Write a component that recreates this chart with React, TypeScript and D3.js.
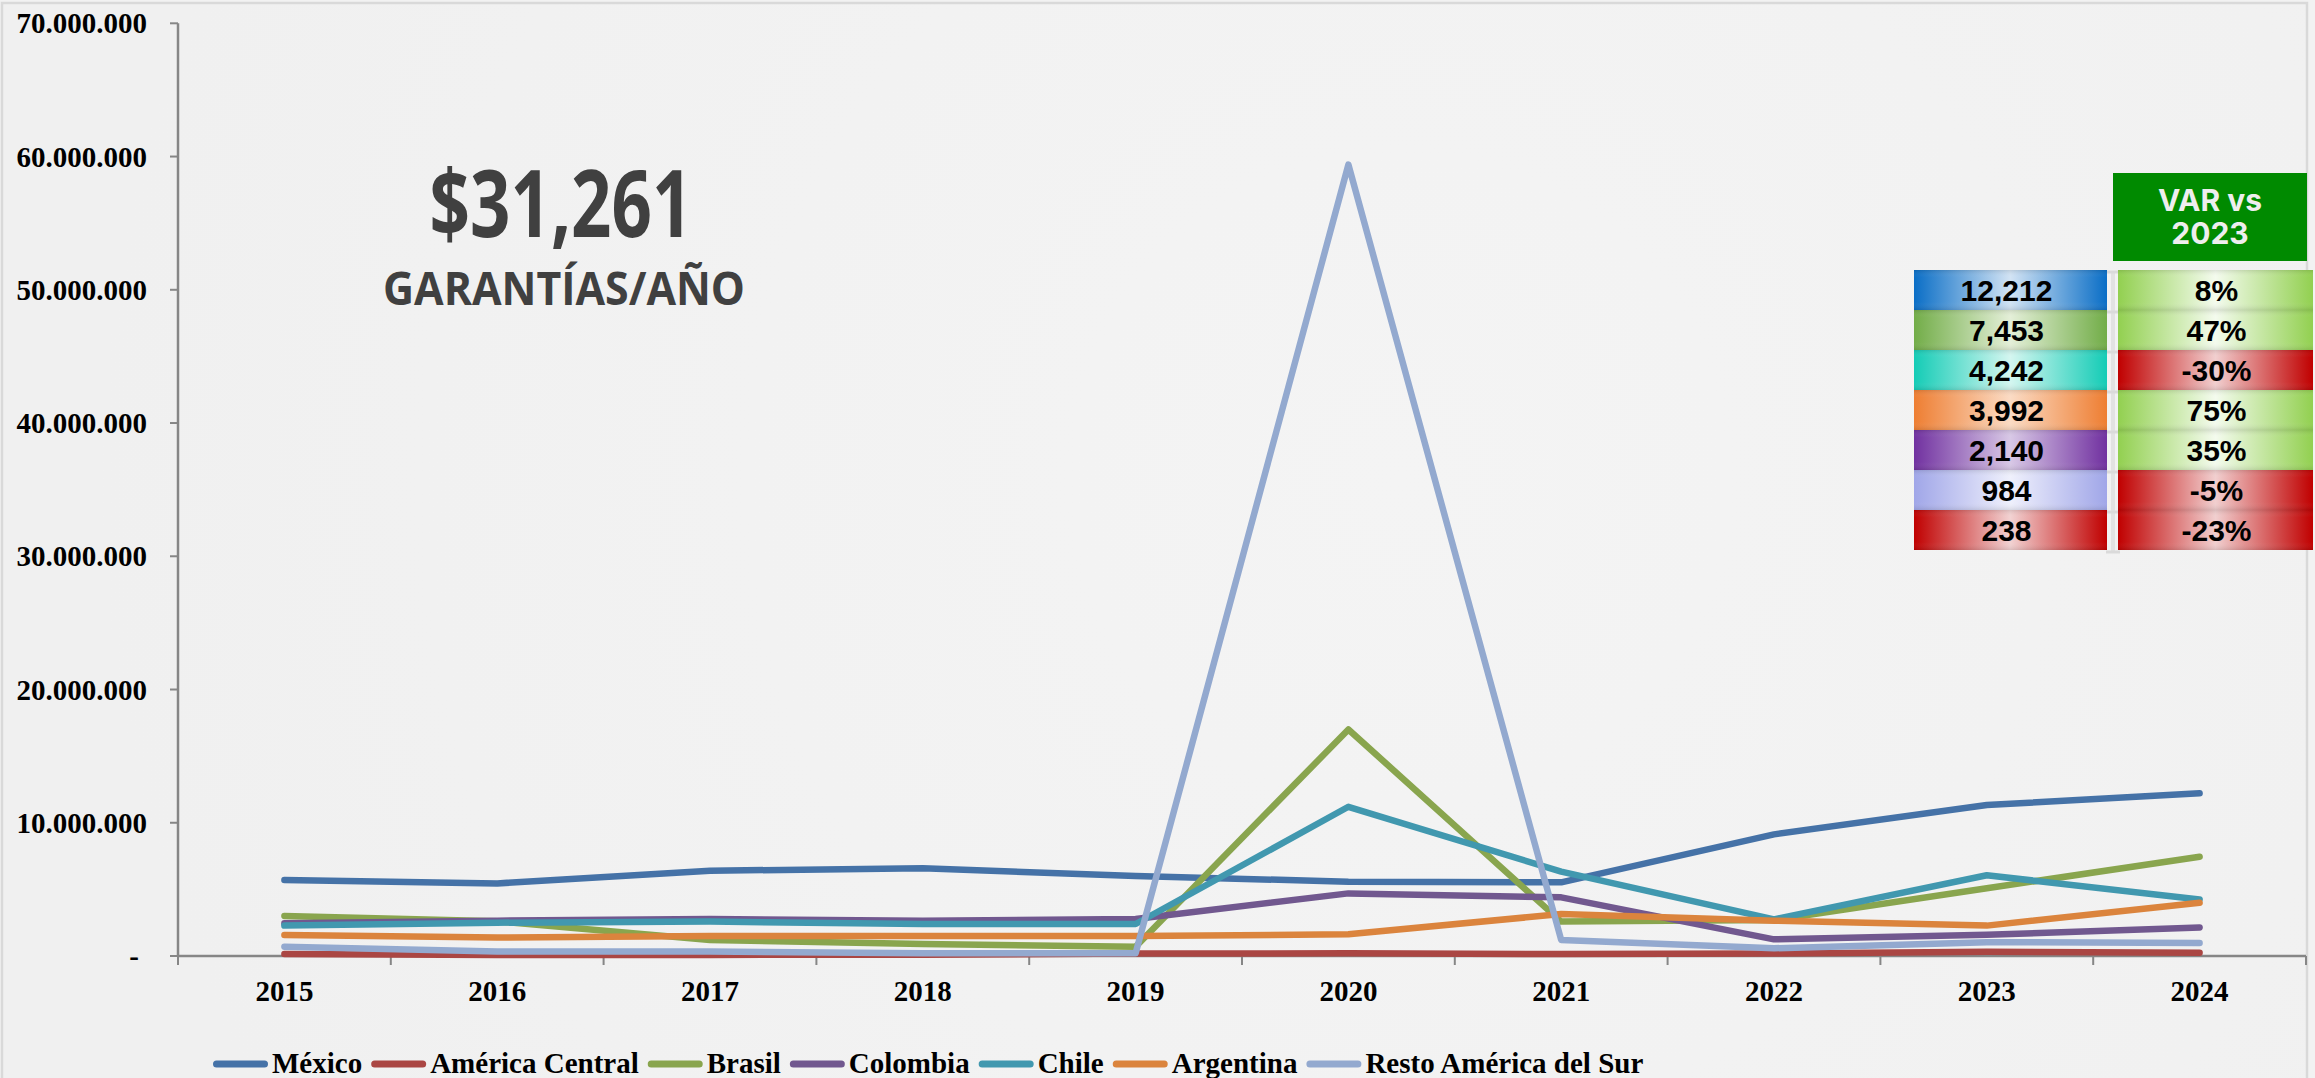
import React, { useMemo } from 'react';
import * as d3 from 'd3';

const W = 2315;
const H = 1078;

// ---------- data ----------
const years = ['2015', '2016', '2017', '2018', '2019', '2020', '2021', '2022', '2023', '2024'];
const seriesNames = ['México', 'América Central', 'Brasil', 'Colombia', 'Chile', 'Argentina', 'Resto América del Sur'];
const mexico = [5700000, 5450000, 6400000, 6580000, 6000000, 5580000, 5530000, 9130000, 11330000, 12212000];
const americaCentral = [150000, 80000, 80000, 100000, 180000, 200000, 150000, 180000, 310000, 238000];
const brasil = [3000000, 2600000, 1200000, 900000, 700000, 17000000, 2580000, 2700000, 5080000, 7453000];
const colombia = [2450000, 2650000, 2780000, 2650000, 2780000, 4700000, 4400000, 1250000, 1590000, 2140000];
const chile = [2280000, 2500000, 2580000, 2400000, 2400000, 11200000, 6330000, 2750000, 6060000, 4242000];
const argentina = [1580000, 1380000, 1500000, 1500000, 1500000, 1630000, 3150000, 2650000, 2280000, 3992000];
const restoSur = [700000, 330000, 330000, 200000, 200000, 59400000, 1200000, 580000, 1036000, 984000];
const seriesValues = [mexico, americaCentral, brasil, colombia, chile, argentina, restoSur];
const yTicks = [0, 10000000, 20000000, 30000000, 40000000, 50000000, 60000000, 70000000];

const totalLabel = '$31,261';
const totalCaption = 'GARANTÍAS/AÑO';
const tableHeader = ['VAR vs', '2023'];
const tableValues = [12212, 7453, 4242, 3992, 2140, 984, 238];
const varValues = [0.08, 0.47, -0.3, 0.75, 0.35, -0.05, -0.23];

// ---------- styles ----------
const seriesColors = ['#4572A7', '#AA4643', '#89A54E', '#71588F', '#4198AF', '#DB843D', '#93A9CF'];
const cellEdge = ['#0A6EC6', '#72AD48', '#14CCB6', '#EE7E32', '#7131A0', '#A0A6E8', '#C00000'];
const cellMid = ['#D2E3F4', '#E4EFD8', '#D4F6F0', '#FBDBC4', '#D8C8E6', '#EFF0FC', '#F2D2D2'];
const posEdge = '#92D050';
const posMid = '#F4FBEE';
const negEdge = '#C00000';
const negMid = '#F1CFCF';

const SERIF = "'Liberation Serif', 'DejaVu Serif', serif";
const SANS = "'Liberation Sans', Arial, sans-serif";

const M = { left: 178, right: 2306, top: 23.3, bottom: 956 };

function measure(text: string, font: string): number {
  const ctx = document.createElement('canvas').getContext('2d');
  if (!ctx) return text.length * 14;
  ctx.font = font;
  return ctx.measureText(text).width;
}

export default function App() {
  const x = d3.scaleBand<string>().domain(years).range([M.left, M.right]).padding(0);
  const y = d3.scaleLinear().domain([0, 70000000]).range([M.bottom, M.top]);
  const cx = (yr: string) => (x(yr) as number) + x.bandwidth() / 2;

  const locale = d3.formatLocale({ decimal: ',', thousands: '.', grouping: [3], currency: ['$', ''] });
  const fmtY = locale.format(',.0f');
  const enLocale = d3.formatLocale({ decimal: '.', thousands: ',', grouping: [3], currency: ['$', ''], minus: '-' });
  const fmtTable = enLocale.format(',');
  const fmtPct = enLocale.format('.0%');

  const line = d3
    .line<number>()
    .x((_, i) => cx(years[i]))
    .y((d) => y(d));

  const legendFont = `bold 29px ${SERIF}`;
  const legendItems = useMemo(() => {
    let cursor = 213;
    return seriesNames.map((name, i) => {
      const w = measure(name, legendFont);
      const item = { name, color: seriesColors[i], x0: cursor, tx: cursor + 59 };
      cursor = cursor + 59 + w + 9;
      return item;
    });
  }, []);

  const rowTop = 270;
  const rowH = 40;
  const leftX = 1914;
  const leftW = 193;
  const rightX = 2118;
  const rightW = 195;

  return (
    <svg
      width={W}
      height={H}
      viewBox={`0 0 ${W} ${H}`}
      style={{ position: 'absolute', left: 0, top: 0, display: 'block' }}
    >
      <defs>
        <radialGradient id="bg" cx="1400" cy="480" r="1300" gradientUnits="userSpaceOnUse">
          <stop offset="0%" stopColor="#F4F4F4" />
          <stop offset="100%" stopColor="#F0F0F0" />
        </radialGradient>
        {cellEdge.map((c, i) => (
          <linearGradient key={'lg' + i} id={'lc' + i} x1="0" x2="1" y1="0" y2="0">
            <stop offset="0%" stopColor={c} />
            <stop offset="50%" stopColor={cellMid[i]} />
            <stop offset="100%" stopColor={c} />
          </linearGradient>
        ))}
        <linearGradient id="pos" x1="0" x2="1" y1="0" y2="0">
          <stop offset="0%" stopColor={posEdge} />
          <stop offset="50%" stopColor={posMid} />
          <stop offset="100%" stopColor={posEdge} />
        </linearGradient>
        <linearGradient id="neg" x1="0" x2="1" y1="0" y2="0">
          <stop offset="0%" stopColor={negEdge} />
          <stop offset="50%" stopColor={negMid} />
          <stop offset="100%" stopColor={negEdge} />
        </linearGradient>
        <linearGradient id="gloss" x1="0" x2="0" y1="0" y2="1">
          <stop offset="0%" stopColor="#000" stopOpacity="0.10" />
          <stop offset="18%" stopColor="#fff" stopOpacity="0.0" />
          <stop offset="80%" stopColor="#fff" stopOpacity="0.0" />
          <stop offset="100%" stopColor="#000" stopOpacity="0.10" />
        </linearGradient>
      </defs>

      {/* background */}
      <rect x={0} y={0} width={W} height={H} fill="#F2F2F2" />
      <rect x={2} y={3} width={2305} height={H + 20} fill="url(#bg)" stroke="#D9D9D9" strokeWidth={2.5} />

      {/* big total */}
      <text
        x={561}
        y={237}
        textAnchor="middle"
        fontFamily="'Open Sans', 'Noto Sans', sans-serif"
        fontWeight={700}
        fontSize={93}
        fill="#404040"
        textLength={263}
        lengthAdjust="spacingAndGlyphs"
      >
        {totalLabel}
      </text>
      <text
        x={564}
        y={305}
        textAnchor="middle"
        fontFamily="'Open Sans', 'Noto Sans', sans-serif"
        fontWeight={700}
        fontSize={46}
        fill="#404040"
        textLength={362}
        lengthAdjust="spacingAndGlyphs"
      >
        {totalCaption}
      </text>

      {/* y axis */}
      <line x1={M.left} x2={M.left} y1={y(70000000)} y2={M.bottom} stroke="#868686" strokeWidth={2.5} />
      {yTicks.map((t) => (
        <g key={'yt' + t}>
          <line x1={M.left - 8} x2={M.left} y1={y(t)} y2={y(t)} stroke="#868686" strokeWidth={2} />
          <text
            x={t === 0 ? 139 : 147}
            y={y(t) + 10}
            textAnchor="end"
            fontFamily={SERIF}
            fontWeight={700}
            fontSize={29}
            fill="#000"
          >
            {t === 0 ? '-' : fmtY(t)}
          </text>
        </g>
      ))}

      {/* x axis */}
      <line x1={M.left} x2={M.right} y1={M.bottom} y2={M.bottom} stroke="#868686" strokeWidth={2.5} />
      {[...years.map((yr) => x(yr) as number), M.right].map((bx, i) => (
        <line key={'xt' + i} x1={bx} x2={bx} y1={M.bottom} y2={M.bottom + 9} stroke="#868686" strokeWidth={2} />
      ))}
      {years.map((yr) => (
        <text
          key={'xl' + yr}
          x={cx(yr)}
          y={1001}
          textAnchor="middle"
          fontFamily={SERIF}
          fontWeight={700}
          fontSize={29}
          fill="#000"
        >
          {yr}
        </text>
      ))}

      {/* series */}
      {seriesValues.map((vals, i) => (
        <path
          key={'s' + i}
          d={line(vals) || ''}
          fill="none"
          stroke={seriesColors[i]}
          strokeWidth={6.5}
          strokeLinecap="round"
          strokeLinejoin="round"
        />
      ))}

      {/* legend */}
      {legendItems.map((it) => (
        <g key={'lg' + it.name}>
          <line
            x1={it.x0 + 3.5}
            x2={it.x0 + 55 - 3.5}
            y1={1064}
            y2={1064}
            stroke={it.color}
            strokeWidth={7}
            strokeLinecap="round"
          />
          <text x={it.tx} y={1073} fontFamily={SERIF} fontWeight={700} fontSize={29} fill="#000">
            {it.name}
          </text>
        </g>
      ))}

      {/* table header */}
      <rect x={2113} y={173} width={194} height={88} fill="#008A00" />
      <text x={2210} y={211} textAnchor="middle" fontFamily="Inter, 'Open Sans', sans-serif" fontWeight={700} fontSize={30} fill="#EEEEEE">
        {tableHeader[0]}
      </text>
      <text x={2210} y={244} textAnchor="middle" fontFamily="Inter, 'Open Sans', sans-serif" fontWeight={700} fontSize={30} fill="#EEEEEE">
        {tableHeader[1]}
      </text>

      {/* connector */}
      <line x1={2113} x2={2113} y1={rowTop + 2} y2={rowTop + rowH * 7 + 2} stroke="#E2E2E2" strokeWidth={4} />
      {d3.range(8).map((k) => (
        <line
          key={'ck' + k}
          x1={2106}
          x2={2120}
          y1={rowTop + 2 + k * rowH}
          y2={rowTop + 2 + k * rowH}
          stroke="#DADADA"
          strokeWidth={3}
        />
      ))}

      {/* table rows */}
      {tableValues.map((v, i) => {
        const top = rowTop + i * rowH;
        const pv = varValues[i];
        return (
          <g key={'row' + i}>
            <rect x={leftX} y={top} width={leftW} height={rowH} fill={`url(#lc${i})`} />
            <rect x={leftX} y={top} width={leftW} height={rowH} fill="url(#gloss)" />
            <text
              x={leftX + leftW / 2 - 4}
              y={top + rowH / 2 + 11}
              textAnchor="middle"
              fontFamily={SANS}
              fontWeight={700}
              fontSize={30}
              fill="#000"
            >
              {fmtTable(v)}
            </text>
            <rect x={rightX} y={top} width={rightW} height={rowH} fill={pv >= 0 ? 'url(#pos)' : 'url(#neg)'} />
            <rect x={rightX} y={top} width={rightW} height={rowH} fill="url(#gloss)" />
            <text
              x={rightX + rightW / 2 + 1}
              y={top + rowH / 2 + 11}
              textAnchor="middle"
              fontFamily={SANS}
              fontWeight={700}
              fontSize={30}
              fill="#000"
            >
              {fmtPct(pv)}
            </text>
          </g>
        );
      })}
    </svg>
  );
}
